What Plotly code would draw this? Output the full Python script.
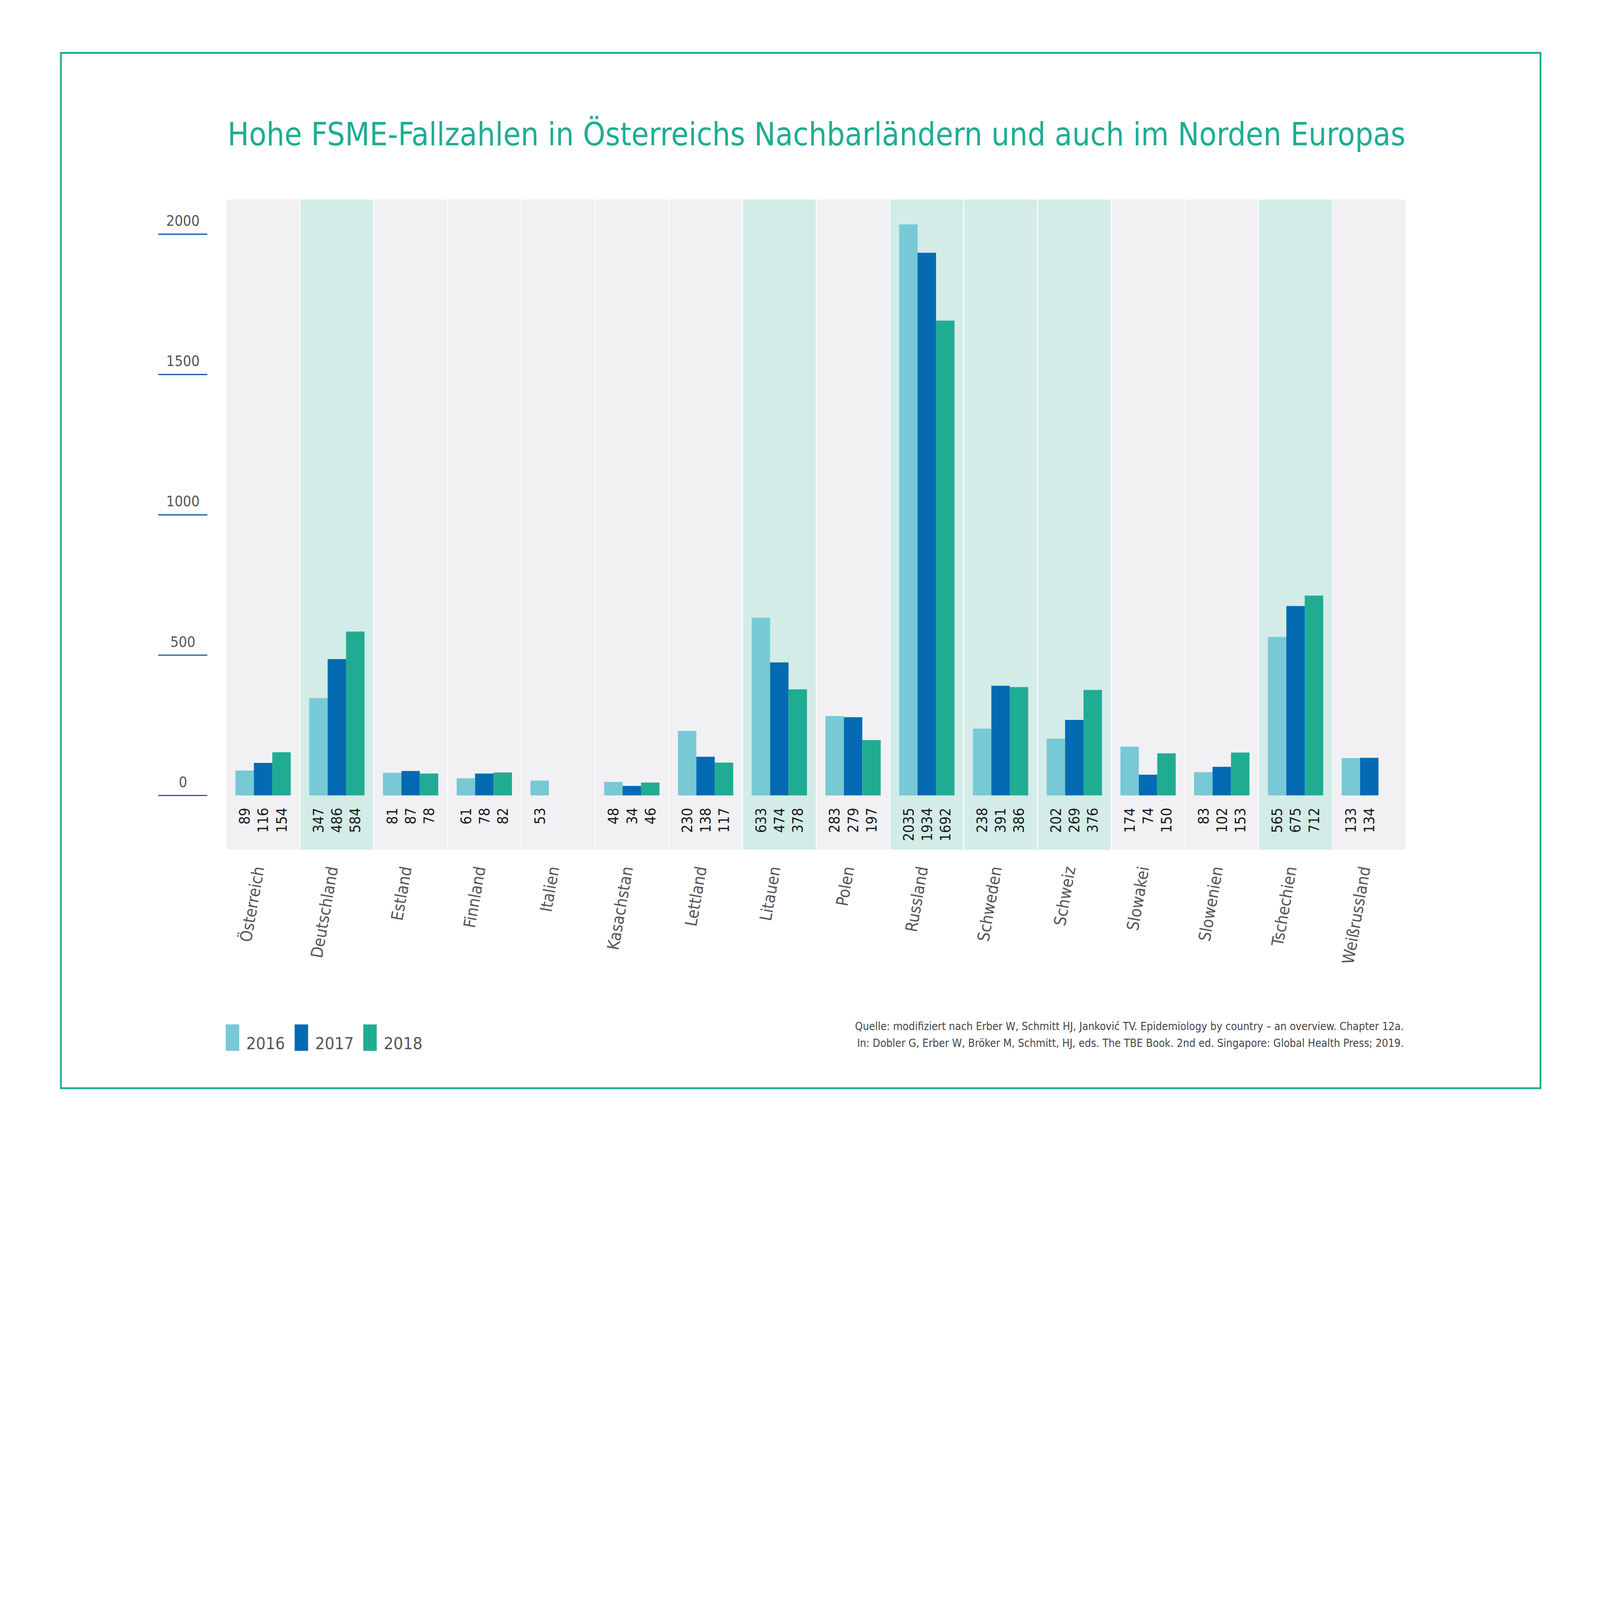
import plotly.graph_objects as go

# FSME cases per country and year
countries = ["Österreich", "Deutschland", "Estland", "Finnland", "Italien", "Kasachstan",
             "Lettland", "Litauen", "Polen", "Russland", "Schweden", "Schweiz",
             "Slowakei", "Slowenien", "Tschechien", "Weißrussland"]
cases_2016 = [89, 347, 81, 61, 53, 48, 230, 633, 283, 2035, 238, 202, 174, 83, 565, 133]
cases_2017 = [116, 486, 87, 78, None, 34, 138, 474, 279, 1934, 391, 269, 74, 102, 675, 134]
cases_2018 = [154, 584, 78, 82, None, 46, 117, 378, 197, 1692, 386, 376, 150, 153, 712, None]
years = ["2016", "2017", "2018"]
highlighted = ["Deutschland", "Litauen", "Russland", "Schweden", "Schweiz", "Tschechien"]
y_ticks = [0, 500, 1000, 1500, 2000]

title = "Hohe FSME-Fallzahlen in Österreichs Nachbarländern und auch im Norden Europas"
source_lines = [
    "Quelle: modifiziert nach Erber W, Schmitt HJ, Janković TV. Epidemiology by country – an overview. Chapter 12a.",
    "In: Dobler G, Erber W, Bröker M, Schmitt, HJ, eds. The TBE Book. 2nd ed. Singapore: Global Health Press; 2019.",
]

colors = ["#78c9d6", "#046bb2", "#20ac93"]
teal = "#1fac92"
grey_text = "#555555"
FONT = "DejaVu Sans Condensed, DejaVu Sans, sans-serif"

# plot area in pixels
W, H = 7016, 4961
L, R, T, B = 992, 6166, 875, 3726
BARGAP = 0.25
bar_px = (R - L) / len(countries) * (1 - BARGAP) / len(years)


def px(x):
    return (x - L) / (R - L)


def py(y):
    return (B - y) / (B - T)


fig = go.Figure()

series = [cases_2016, cases_2017, cases_2018]
for year, vals, col in zip(years, series, colors):
    fig.add_trace(go.Bar(x=countries, y=vals, name=year, marker=dict(color=col, line=dict(width=0)),
                         hoverinfo="skip"))

shapes = []
annotations = []

# column backgrounds
for i, c in enumerate(countries):
    shapes.append(dict(type="rect", xref="x", yref="paper", x0=i - 0.494, x1=i + 0.494, y0=0, y1=1,
                       fillcolor="#d3ece7" if c in highlighted else "#f1f1f3",
                       line=dict(width=0), layer="below"))

# value labels under the bars, rotated
for k, vals in enumerate(series):
    for c, v in zip(countries, vals):
        if v is None:
            continue
        annotations.append(dict(xref="x", yref="y", x=c, y=0, text=str(v), showarrow=False,
                                textangle=-90, xanchor="center", yanchor="top",
                                xshift=(k - 1) * bar_px, yshift=-52,
                                font=dict(family=FONT, size=64, color="#1a1a1a")))

# y ticks: short blue lines with labels above
for t in y_ticks:
    shapes.append(dict(type="line", xref="paper", yref="y", x0=px(694), x1=px(909), y0=t, y1=t,
                       line=dict(color="#0d4fa0", width=5)))
    annotations.append(dict(xref="paper", yref="y", x=px(802), y=t, text=str(t), showarrow=False,
                            xanchor="center", yanchor="bottom", yshift=20,
                            font=dict(family=FONT, size=64, color=grey_text)))

# frame
shapes.append(dict(type="rect", xref="paper", yref="paper", x0=px(267), x1=px(6755), y0=py(4772), y1=py(232),
                   line=dict(color=teal, width=8), fillcolor="rgba(0,0,0,0)"))

# legend
legend_x = [990, 1292, 1593]
for year, col, lx in zip(years, colors, legend_x):
    shapes.append(dict(type="rect", xref="paper", yref="paper", x0=px(lx), x1=px(lx + 59),
                       y0=py(4608), y1=py(4492), fillcolor=col, line=dict(width=0)))
    annotations.append(dict(xref="paper", yref="paper", x=px(lx + 88), y=py(4574), text=year, showarrow=False,
                            xanchor="left", yanchor="middle",
                            font=dict(family=FONT, size=74, color=grey_text)))

# title
annotations.append(dict(xref="paper", yref="paper", x=px(995), y=py(590), text=title, showarrow=False,
                        xanchor="left", yanchor="middle", font=dict(family=FONT, size=139, color=teal)))

# source
for line, yy in zip(source_lines, [4500, 4574]):
    annotations.append(dict(xref="paper", yref="paper", x=px(6158), y=py(yy), text=line, showarrow=False,
                            xanchor="right", yanchor="middle",
                            font=dict(family=FONT, size=48, color="#444444")))

fig.update_layout(
    width=W, height=H,
    margin=dict(l=L, r=W - R, t=T, b=H - B),
    paper_bgcolor="white", plot_bgcolor="white",
    barmode="group", bargap=BARGAP, bargroupgap=0,
    showlegend=False,
    shapes=shapes, annotations=annotations,
    font=dict(family=FONT),
)
fig.update_xaxes(type="category", showgrid=False, showline=False, zeroline=False,
                 tickangle=-80, ticks="", ticklabelstandoff=35, ticklabelshift=-30,
                 tickfont=dict(family=FONT, size=72, color=grey_text))
fig.update_yaxes(range=[-193.4, 2123.5], showgrid=False, zeroline=False, showline=False,
                 showticklabels=False)

# no page margin; shrink the figure only if the window is smaller than the chart
fit_js = """
document.body.style.margin = '0';
var gd = document.getElementById('{plot_id}');
var s = Math.min(1, window.innerWidth / %d, window.innerHeight / %d);
if (s < 1) { gd.style.transformOrigin = '0 0'; gd.style.transform = 'scale(' + s + ')'; }
""" % (W, H)

fig.write_html("out.html", post_script=fit_js, config={"displayModeBar": False})
